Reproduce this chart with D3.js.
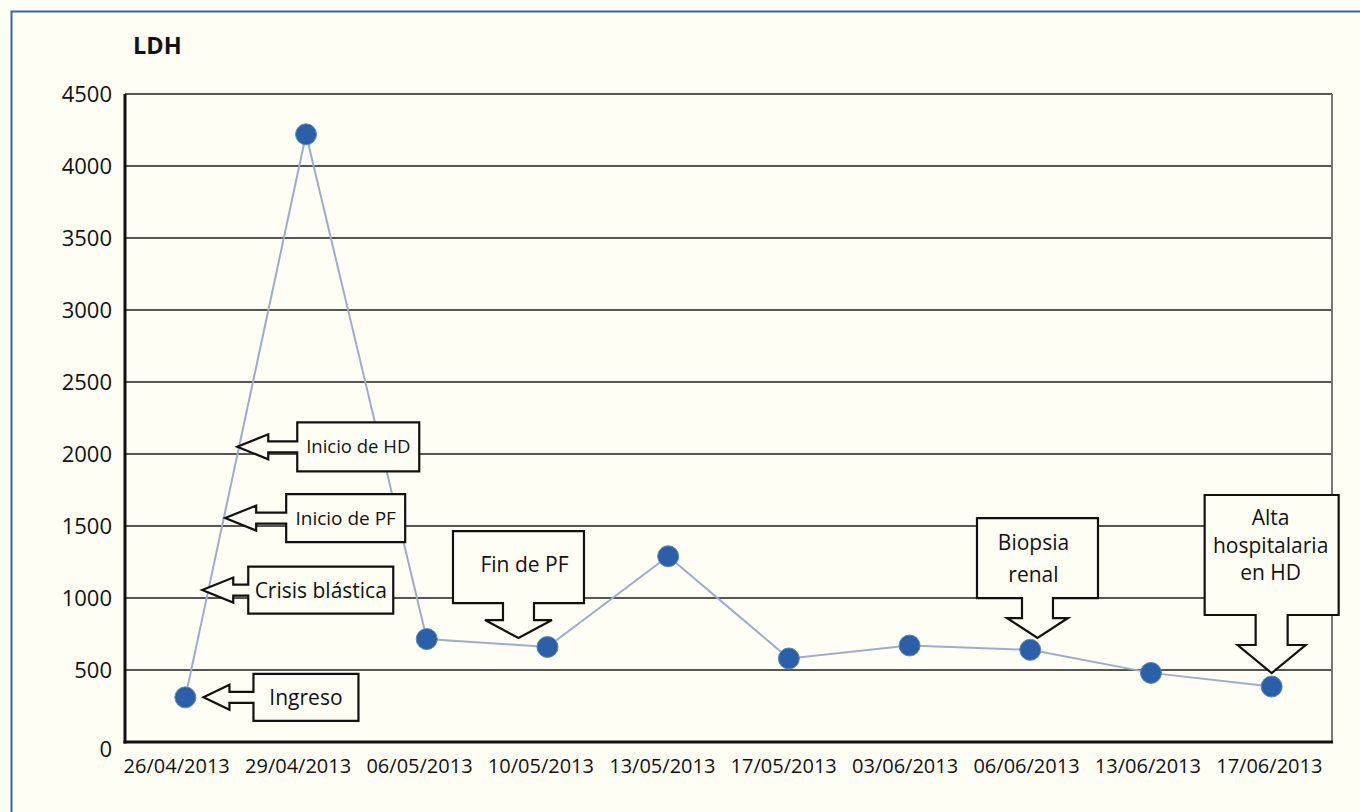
<!DOCTYPE html>
<html>
<head>
<meta charset="utf-8">
<script src="https://cdn.jsdelivr.net/npm/d3@7"></script>
<style>
  html, body { margin: 0; padding: 0; background: #fffef5; }
  svg { display: block; }
  text { font-family: "Open Sans", "Noto Sans", sans-serif; fill: #111; }
</style>
</head>
<body>
<svg id="chart" width="1360" height="812"></svg>
<script>
// ---- data ----
const categories = ["26/04/2013", "29/04/2013", "06/05/2013", "10/05/2013", "13/05/2013",
                    "17/05/2013", "03/06/2013", "06/06/2013", "13/06/2013", "17/06/2013"];
const ldhValues = [310, 4220, 715, 660, 1290, 580, 670, 640, 480, 385];
const yTicks = [0, 500, 1000, 1500, 2000, 2500, 3000, 3500, 4000, 4500];
const chartTitle = "LDH";

// left-pointing annotations (text, anchored value, fractional category index)
const leftNotes = ["Inicio de HD", "Inicio de PF", "Crisis blástica", "Ingreso"];
const leftNoteValues = [2050, 1555, 1055, 310];
const leftNoteIndex = [0.43, 0.33, 0.14, 0.15];

// down-pointing annotations
const downNotes = [["Fin de PF"], ["Biopsia", "renal"], ["Alta", "hospitalaria", "en HD"]];
const downNoteValues = [722, 722, 479];
const downNoteIndex = [2.76, 7.06, 9.0];

// ---- layout (geometry only) ----
const W = 1360, H = 812;
const plot = { left: 125, top: 94, right: 1332, bottom: 742 };
const leftGeom = [
  { head: 31, stem: 29, w: 122, h: 49, font: 18.5 },
  { head: 31, stem: 30, w: 119, h: 48, font: 19 },
  { head: 31, stem: 15, w: 145, h: 47, font: 21 },
  { head: 26, stem: 24, w: 105, h: 47, font: 21 }
];
const downGeom = [
  { w: 131, h: 72, stemW: 31, stemH: 17, headW: 67, headH: 18, first: 41, gap: 32, dx: 6 },
  { w: 121, h: 80, stemW: 31, stemH: 20, headW: 61, headH: 20, first: 32, gap: 32, dx: -4 },
  { w: 134, h: 120, stemW: 32, stemH: 30, headW: 68, headH: 28, first: 30, gap: 27.5, dx: -1 }
];

const svg = d3.select("#chart");
svg.append("rect").attr("width", W).attr("height", H).attr("fill", "#fffef5");

// outer frame (blue)
svg.append("path")
  .attr("d", `M${W},11.5 H11.5 V${H}`)
  .attr("fill", "none").attr("stroke", "#3a62a6").attr("stroke-width", 2);

const x = d3.scalePoint().domain(categories).range([plot.left, plot.right]).padding(0.5);
const xLabel = d3.scalePoint().domain(categories).range([plot.left - 9, plot.right - 2]).padding(0.5);
const y = d3.scaleLinear().domain([0, 4500]).range([plot.bottom, plot.top]);
const xAt = i => x(categories[0]) + i * x.step();

// gridlines
svg.append("g").selectAll("line")
  .data(yTicks.filter(d => d > 0))
  .join("line")
  .attr("x1", plot.left).attr("x2", plot.right)
  .attr("y1", d => y(d)).attr("y2", d => y(d))
  .attr("stroke", "#555").attr("stroke-width", 2);

// right border
svg.append("line")
  .attr("x1", plot.right).attr("x2", plot.right)
  .attr("y1", plot.top).attr("y2", plot.bottom)
  .attr("stroke", "#777").attr("stroke-width", 2);

// y axis labels
svg.append("g").selectAll("text")
  .data(yTicks)
  .join("text")
  .attr("x", 112).attr("y", d => y(d) + (d === 0 ? 15 : 8))
  .attr("text-anchor", "end")
  .attr("font-size", 22)
  .text(d => d);

// x axis labels
svg.append("g").selectAll("text")
  .data(categories)
  .join("text")
  .attr("x", d => xLabel(d)).attr("y", 773)
  .attr("text-anchor", "middle")
  .attr("font-size", 20)
  .text(d => d);

// title
svg.append("text")
  .attr("x", 133).attr("y", 54)
  .attr("font-size", 23.5).attr("font-weight", 700)
  .text(chartTitle);

// data line
const line = d3.line().x((d, i) => x(categories[i])).y(d => y(d));
svg.append("path")
  .datum(ldhValues)
  .attr("d", line)
  .attr("fill", "none")
  .attr("stroke", "#9eaccb")
  .attr("stroke-width", 2);

// axes (left & bottom, black)
svg.append("line")
  .attr("x1", plot.left).attr("x2", plot.left)
  .attr("y1", plot.top).attr("y2", plot.bottom + 1.5)
  .attr("stroke", "#111").attr("stroke-width", 3);
svg.append("line")
  .attr("x1", plot.left - 1.5).attr("x2", plot.right + 1)
  .attr("y1", plot.bottom).attr("y2", plot.bottom)
  .attr("stroke", "#111").attr("stroke-width", 3);

// points
svg.append("g").selectAll("circle")
  .data(ldhValues)
  .join("circle")
  .attr("cx", (d, i) => x(categories[i]))
  .attr("cy", d => y(d))
  .attr("r", 10.5)
  .attr("fill", "#2b5fa7")
  .attr("stroke", "#5a86c4")
  .attr("stroke-width", 1);

// left-pointing callouts
const gl = svg.append("g");
leftNotes.forEach((t, k) => {
  const g = leftGeom[k];
  const tx = xAt(leftNoteIndex[k]);
  const ty = y(leftNoteValues[k]);
  const hb = tx + g.head;          // head back
  const bl = hb + g.stem;          // box left
  const br = bl + g.w;
  const bt = ty - g.h / 2, bb = ty + g.h / 2;
  const hh = 12.5, sh = 5.5;
  const d = `M${bl},${bt} H${br} V${bb} H${bl} V${ty + sh} H${hb} V${ty + hh} L${tx},${ty} L${hb},${ty - hh} V${ty - sh} H${bl} Z`;
  gl.append("path").attr("d", d)
    .attr("fill", "#fffef5").attr("stroke", "#111").attr("stroke-width", 2.2)
    .attr("stroke-linejoin", "miter");
  gl.append("text")
    .attr("x", (bl + br) / 2).attr("y", ty + g.font * 0.36)
    .attr("text-anchor", "middle")
    .attr("font-size", g.font)
    .text(t);
});

// down-pointing callouts
const gd = svg.append("g");
downNotes.forEach((lines, k) => {
  const g = downGeom[k];
  const tx = xAt(downNoteIndex[k]);
  const ty = y(downNoteValues[k]);
  const headTop = ty - g.headH;
  const bb = headTop - g.stemH;    // box bottom
  const bt = bb - g.h;
  const bl = tx - g.w / 2, br = tx + g.w / 2;
  const sl = tx - g.stemW / 2, sr = tx + g.stemW / 2;
  const hl = tx - g.headW / 2, hr = tx + g.headW / 2;
  const d = `M${bl},${bt} H${br} V${bb} H${sr} V${headTop} H${hr} L${tx},${ty} L${hl},${headTop} H${sl} V${bb} H${bl} Z`;
  gd.append("path").attr("d", d)
    .attr("fill", "#fffef5").attr("stroke", "#111").attr("stroke-width", 2.2);
  lines.forEach((s, j) => {
    gd.append("text")
      .attr("x", tx + g.dx).attr("y", bt + g.first + j * g.gap)
      .attr("text-anchor", "middle")
      .attr("font-size", 21)
      .text(s);
  });
});
</script>
</body>
</html>
